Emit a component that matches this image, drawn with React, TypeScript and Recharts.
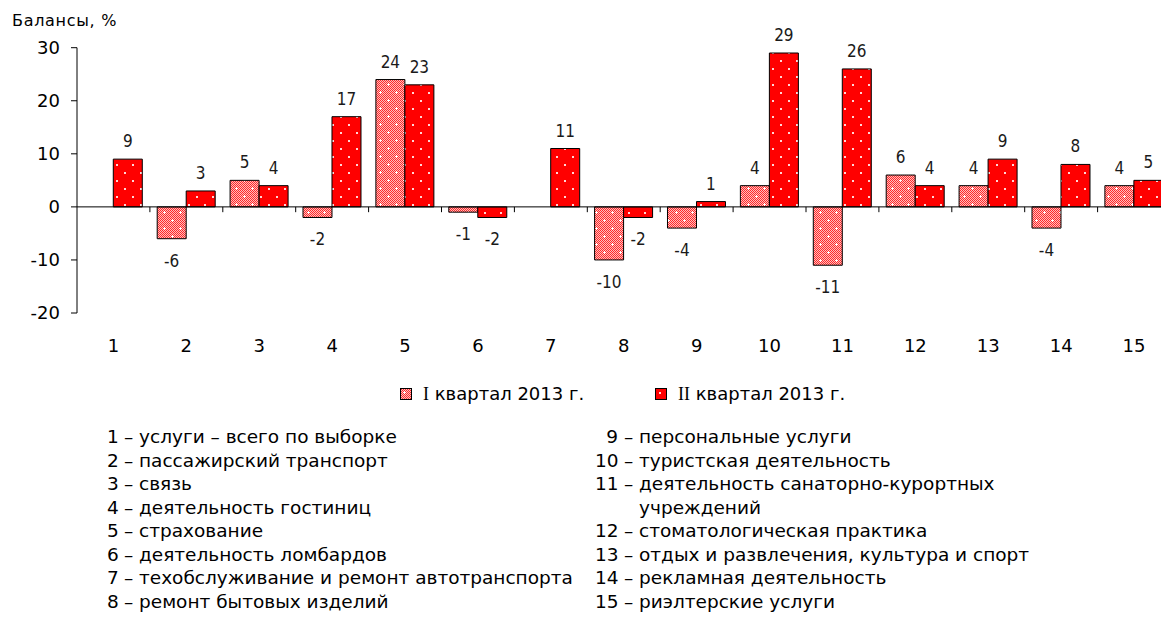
import React from 'react';
import { BarChart, Bar, XAxis, YAxis, ReferenceLine, LabelList } from 'recharts';

const categories = ['1', '2', '3', '4', '5', '6', '7', '8', '9', '10', '11', '12', '13', '14', '15'];
const q1Values: (number | null)[] = [null, -6, 5, -2, 24, -1, null, -10, -4, 4, -11, 6, 4, -4, 4];
const q2Values: (number | null)[] = [9, 3, 4, 17, 23, -2, 11, -2, 1, 29, 26, 4, 9, 8, 5];
const yTicks = [-20, -10, 0, 10, 20, 30];
const seriesNames = ['I квартал 2013 г.', 'II квартал 2013 г.'];
const yTitle = 'Балансы, %';
const categoryNames = [
  'услуги – всего по выборке',
  'пассажирский транспорт',
  'связь',
  'деятельность гостиниц',
  'страхование',
  'деятельность ломбардов',
  'техобслуживание и ремонт автотранспорта',
  'ремонт бытовых изделий',
  'персональные услуги',
  'туристская деятельность',
  'деятельность санаторно-курортных\nучреждений',
  'стоматологическая практика',
  'отдых и развлечения, культура и спорт',
  'рекламная деятельность',
  'риэлтерские услуги',
];

const data = categories.map((c, i) => ({ cat: c, q1: q1Values[i], q2: q2Values[i] }));

const FONT = '"DejaVu Sans", sans-serif';
const LABEL_FONT = '"Liberation Sans Narrow", "DejaVu Sans Condensed", "Liberation Sans", sans-serif';

const renderLabel = (props: any) => {
  const { x, y, width, height, value } = props;
  if (value === null || value === undefined) return null;
  const nx = Number(x), ny = Number(y), nw = Number(width), nh = Number(height);
  const top = Math.min(ny, ny + nh);
  const bottom = Math.max(ny, ny + nh);
  const ty = Number(value) >= 0 ? top - 12 : bottom + 28;
  return (
    <text x={nx + nw / 2} y={ty} textAnchor="middle" fontSize={17} fontFamily={LABEL_FONT} fill="#1a1a1a">
      {value}
    </text>
  );
};

const Patterns = () => (
  <svg width={0} height={0} style={{ position: 'absolute', left: 0, top: 0 }}>
    <defs>
      <pattern id="chk" width="2" height="2" patternUnits="userSpaceOnUse">
        <rect width="2" height="2" fill="#ffbdbd" />
        <rect width="1" height="1" fill="#ff2a2a" />
        <rect x="1" y="1" width="1" height="1" fill="#ff2a2a" />
      </pattern>
      <pattern id="patQ1" width="16" height="16" patternUnits="userSpaceOnUse">
        <rect width="16" height="16" fill="url(#chk)" />
        <rect x="3" y="4" width="3" height="1" fill="#ffffff" />
        <rect x="4" y="3" width="1" height="3" fill="#ffffff" />
        <rect x="11" y="12" width="3" height="1" fill="#ffffff" />
        <rect x="12" y="11" width="1" height="3" fill="#ffffff" />
      </pattern>
      <pattern id="patQ2" width="16" height="16" patternUnits="userSpaceOnUse">
        <rect width="16" height="16" fill="#ff0000" />
        <rect x="4" y="4" width="2" height="2" fill="#ffd6d6" />
        <rect x="12" y="12" width="2" height="2" fill="#ffd6d6" />
      </pattern>
    </defs>
  </svg>
);

const RomanLabel = ({ text }: { text: string }) => {
  const idx = text.indexOf(' ');
  return (
    <span>
      <span style={{ fontFamily: '"Liberation Serif", "DejaVu Serif", serif' }}>{text.slice(0, idx)}</span>
      {text.slice(idx)}
    </span>
  );
};

const LegendItem = ({ left, pat, text }: { left: number; pat: string; text: string }) => (
  <div style={{ position: 'absolute', left, top: 0, display: 'flex', alignItems: 'center', whiteSpace: 'nowrap' }}>
    <svg width={12} height={12} style={{ marginRight: 11 }}>
      <rect x={0.5} y={0.5} width={11} height={11} fill={`url(#${pat})`} stroke="#000" />
    </svg>
    <RomanLabel text={text} />
  </div>
);

const ROW_H = 23.5;

const NoteRow = ({ num, text, top, left, numW }: { num: string; text: string; top: number; left: number; numW: number }) => {
  const lines = text.split('\n');
  return (
    <>
      {lines.map((ln, k) => (
        <div key={k} style={{ position: 'absolute', top: top + k * ROW_H, left, display: 'flex', whiteSpace: 'nowrap', lineHeight: `${ROW_H}px` }}>
          <span style={{ width: numW, textAlign: 'right', display: 'inline-block', visibility: k === 0 ? 'visible' : 'hidden' }}>{num}</span>
          <span style={{ whiteSpace: 'pre', visibility: k === 0 ? 'visible' : 'hidden' }}>{' – '}</span>
          <span>{ln}</span>
        </div>
      ))}
    </>
  );
};

export default function App() {
  const leftIdx = [0, 1, 2, 3, 4, 5, 6, 7];
  const rightIdx = [8, 9, 10, 11, 12, 13, 14];
  let rightRow = 0;
  return (
    <div style={{ position: 'absolute', left: 0, top: 0, width: 1161, height: 632, overflow: 'hidden', background: '#fff', fontFamily: FONT, color: '#000' }}>
      <Patterns />
      <div style={{ position: 'absolute', left: 12, top: 11, fontSize: 16, letterSpacing: 0.7, whiteSpace: 'nowrap' }}>{yTitle}</div>
      <div style={{ position: 'absolute', left: 0, top: 0 }}>
        <BarChart width={1172} height={360} data={data} margin={{ top: 47.7, right: 1.5, left: 17, bottom: 7 }} barCategoryGap="10%" barGap={0}>
          <XAxis
            dataKey="cat"
            axisLine={false}
            tickLine={false}
            tickSize={0}
            tickMargin={26}
            interval={0}
            height={40}
            tick={{ fontSize: 18, fill: '#000', fontFamily: FONT }}
          />
          <YAxis
            domain={[-20, 30]}
            ticks={yTicks}
            interval={0}
            width={60}
            allowDataOverflow
            axisLine={{ stroke: '#000' }}
            tickLine={{ stroke: '#000' }}
            tickSize={6}
            tickMargin={11}
            tick={{ fontSize: 18, fill: '#000', fontFamily: FONT }}
          />
          <Bar dataKey="q1" fill="url(#patQ1)" stroke="#000" strokeWidth={1} isAnimationActive={false}>
            <LabelList dataKey="q1" content={renderLabel} />
          </Bar>
          <Bar dataKey="q2" fill="url(#patQ2)" stroke="#000" strokeWidth={1} isAnimationActive={false}>
            <LabelList dataKey="q2" content={renderLabel} />
          </Bar>
          <ReferenceLine y={0} stroke="#000" strokeWidth={1} />
          {categories.slice(1).map((c) => (
            <ReferenceLine key={c} segment={[{ x: c, y: 0 }, { x: c, y: -1 }]} position="start" stroke="#000" strokeWidth={1} />
          ))}
        </BarChart>
      </div>
      <div style={{ position: 'absolute', left: 0, top: 383, width: 1161, height: 24, fontSize: 18 }}>
        <LegendItem left={400} pat="patQ1" text={seriesNames[0]} />
        <LegendItem left={655} pat="patQ2" text={seriesNames[1]} />
      </div>
      <div style={{ position: 'absolute', left: 0, top: 0, fontSize: 18.5 }}>
        {leftIdx.map((i, r) => (
          <NoteRow key={i} num={categories[i]} text={categoryNames[i]} top={425 + r * ROW_H} left={107} numW={11} />
        ))}
        {rightIdx.map((i) => {
          const r = rightRow;
          rightRow += categoryNames[i].split('\n').length;
          return <NoteRow key={i} num={categories[i]} text={categoryNames[i]} top={425 + r * ROW_H} left={595} numW={23} />;
        })}
      </div>
    </div>
  );
}
